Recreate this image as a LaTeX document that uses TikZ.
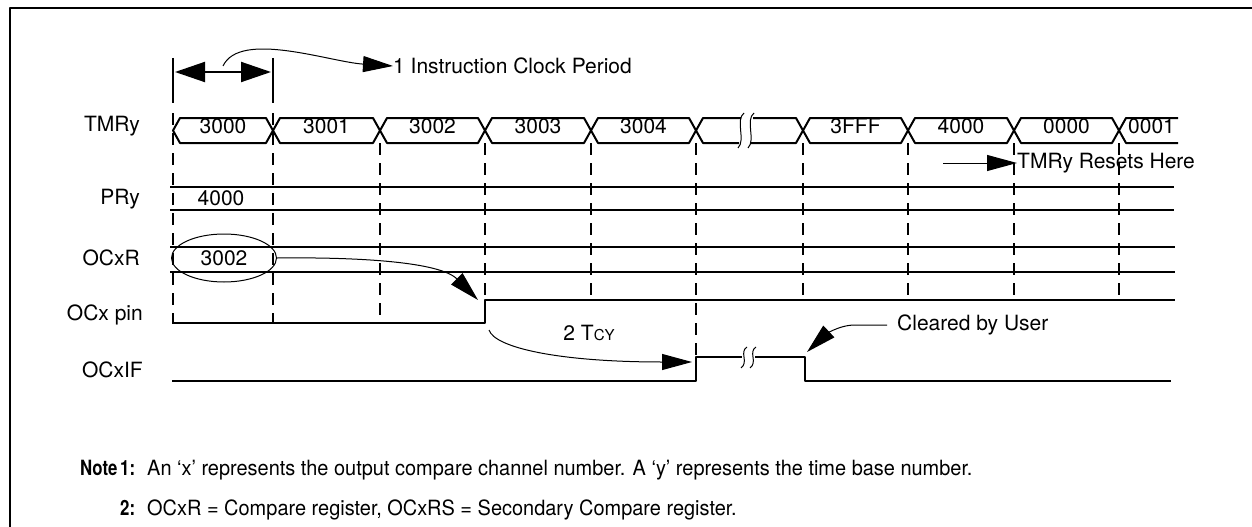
\documentclass[tikz,border=0pt]{standalone}
\usepackage{fontspec}
\usepackage{graphicx}
\setmainfont{TeX Gyre Heros}
\newcommand{\narrow}[2][0.95]{\scalebox{#1}[1]{#2}}
\usetikzlibrary{arrows.meta,positioning,shapes.geometric}

\begin{document}
\begin{tikzpicture}[x=1pt, y=-1pt, line join=round,
  wave/.style={line width=2pt},
  gridline/.style={line width=2pt, dash pattern=on 12pt off 8pt},
  hair/.style={line width=1pt},
  bigtip/.style={-{Triangle[length=30pt,width=16pt]}},
  sig/.style={font=\fontsize{21}{24}\selectfont, inner sep=0pt},
  note/.style={font=\fontsize{21}{24}\selectfont, inner sep=0pt, anchor=base west},
  noteb/.style={note, font=\bfseries\fontsize{21}{24}\selectfont}]

  \useasboundingbox (0,0) rectangle (1252,527);

  % Frame
  \draw [line width=2pt] (10,527) -- (10,8) -- (1252,8);

  % Clock edges
  \draw [wave] (173,58) -- (173,103);
  \draw [wave] (273,58) -- (273,103);
  \foreach \x/\ya/\yb in {173/113/323, 273/113/323, 380/143/323, 485/143/300,
    591/143/300, 696/143/357, 803/143/300, 908/143/300, 1014/143/300, 1119/143/300}
    \draw [gridline] (\x,\ya) -- (\x,\yb);

  % Signal names
  \node [sig, anchor=base east] (tmry) at (140,131) {TMRy};
  \node [sig, anchor=base east] (pry) at (140,204) {PRy};
  \node [sig, anchor=base east] (ocxr) at (140,265) {OCxR};
  \node [sig, anchor=base east] (ocxpin) at (143,320) {OCx pin};
  \node [sig, anchor=base east] (ocxif) at (143,377) {OCxIF};

  % TMRy bus
  \foreach \a/\b/\v in {173/273/3000, 273/380/3001, 380/485/3002, 485/591/3003,
    591/696/3004, 803/908/3FFF, 908/1014/4000, 1014/1119/0000}{
    \draw [wave] (\a+7,118) -- (\b-7,118) -- (\b,130.5) -- (\b-7,143) --
      (\a+7,143) -- (\a,130.5) -- cycle;
    \node [sig, anchor=base] (tm\v) at ({(\a+\b)/2},133) {\v};
  }
  \draw [wave] (696,130.5) -- (703,118) -- (741,118);
  \draw [wave] (696,130.5) -- (703,143) -- (739,143);
  \draw [wave] (753,118) -- (796,118) -- (803,130.5);
  \draw [wave] (751,143) -- (796,143) -- (803,130.5);
  \foreach \x in {741,751}
    \draw [hair] (\x+3,113) .. controls (\x-6,120) and (\x+5,140) .. (\x-3,148);
  \draw [wave] (1178,118) -- (1126,118) -- (1119,130.5) -- (1126,143) -- (1178,143);
  \node [sig, anchor=base west] (tm0001) at (1128,133) {0001};

  % PRy
  \draw [wave] (170,187) -- (1174,187);
  \draw [wave] (170,210) -- (1174,210);
  \node [sig, anchor=base] (prval) at (221,205) {4000};

  % OCxR
  \draw [wave] (170,247) -- (1175,247);
  \draw [wave] (170,272) -- (1175,272);
  \node [sig, ellipse, draw, hair, minimum width=105pt, minimum height=48pt]
    (ocxrval) at (224,258) {3002};

  % OCx pin
  \draw [wave] (172,323) -- (485,323) -- (485,300) -- (1175,300);

  % OCxIF
  \draw [wave] (172,381) -- (696,381) -- (696,357) -- (742,357);
  \draw [wave] (755,357) -- (805,357) -- (805,381) -- (1171,381);
  \foreach \x in {744,753}
    \draw [hair] (\x+3,347) .. controls (\x-5,352) and (\x+5,362) .. (\x-3,368);

  % Annotations
  \coordinate (edge0) at (175,72);
  \coordinate (edge1) at (271,72);
  \draw [wave, {Triangle[length=30pt,width=20pt]}-{Triangle[length=30pt,width=20pt]}]
    (edge0) -- (edge1);
  \node [sig, anchor=west] (period) at (393,66) {1 Instruction Clock Period};
  \draw [hair, bigtip] (223,66) .. controls (240,30) and (330,62) .. (period.west);

  \node [sig, anchor=west] (resets) at (1017,163) {TMRy Resets Here};
  \draw [hair, bigtip] (943,163) -- (resets.west);

  \coordinate (pinrise) at (478,300);
  \draw [hair, bigtip] (ocxrval.east) .. controls (360,257) and (440,262) .. (pinrise);

  \node [sig, anchor=base] (tcy) at (589,340) {2 T{\fontsize{15}{16}\selectfont CY}};
  \coordinate (tcyfrom) at (489,330);
  \coordinate (ifrise) at (692,362);
  \draw [hair, bigtip] (tcyfrom) .. controls (495,348) and (560,362) .. (ifrise);

  \node [sig, anchor=west] (cleared) at (897,325) {Cleared by User};
  \coordinate (clrtip) at (807,352);
  \draw [hair, bigtip] ([xshift=-10pt]cleared.west) -- (855,325)
    .. controls (838,325) and (824,336) .. (clrtip);

  % Notes
  \node [noteb] (notehead) at (80,475) {\narrow[0.8]{Note}};
  \node [noteb] (n1num) at (120,475) {\narrow[0.8]{1:}};
  \node [note] (n1) at (147,475) {\narrow{An ‘x’ represents the output compare channel number. A ‘y’ represents the time base number.}};
  \node [noteb] (n2num) at (120,515) {\narrow[0.8]{2:}};
  \node [note] (n2) at (147,515) {\narrow{OCxR = Compare register, OCxRS = Secondary Compare register.}};

\end{tikzpicture}
\end{document}
